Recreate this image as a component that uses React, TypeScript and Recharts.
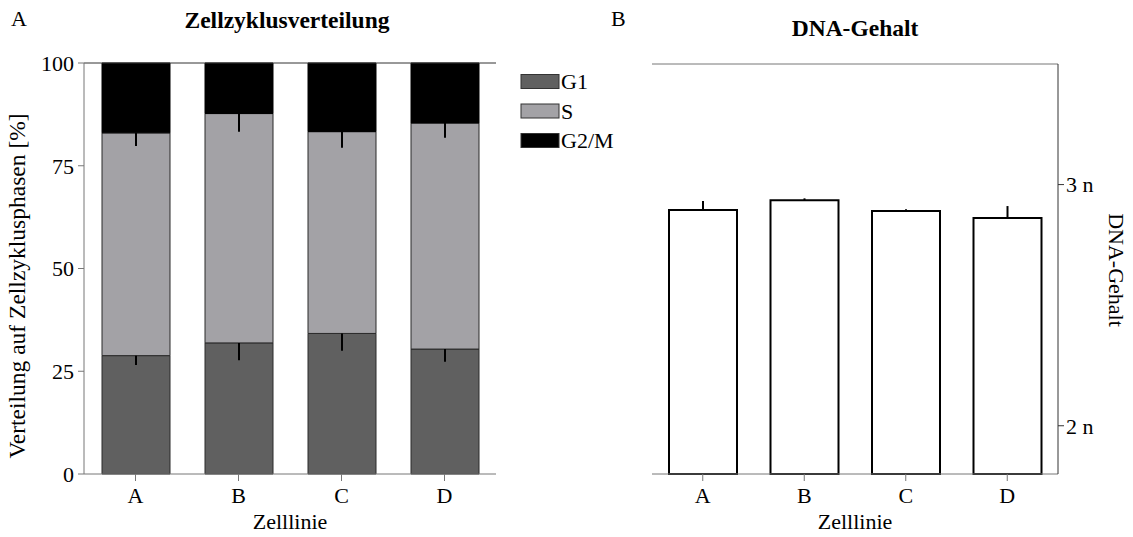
import React from 'react';
import { BarChart, Bar, XAxis, YAxis, ErrorBar, ReferenceLine } from 'recharts';

const categories = ['A', 'B', 'C', 'D'];
const seriesNames = ['G1', 'S', 'G2/M'];
const seriesColors = ['#606060', '#a3a2a6', '#000000'];
const g1Values = [28.8, 31.9, 34.2, 30.4];
const sValues = [54.2, 55.8, 49.1, 55.0];
const g2mValues = [17.0, 12.3, 16.7, 14.6];
const g1Errors = [2.3, 4.2, 4.2, 3.1];
const sErrors = [3.2, 4.4, 3.9, 3.6];
const pctTicks = [0, 25, 50, 75, 100];

const dnaValues = [2.895, 2.935, 2.89, 2.861];
const dnaErrors = [0.037, 0.008, 0.008, 0.05];
const dnaTicks = [2, 3];
const dnaTickLabels = ['2 n', '3 n'];
const dnaDomain = [1.8, 3.5];

const cycleData = categories.map((c, i) => ({
  name: c,
  G1: g1Values[i],
  S: sValues[i],
  G2M: g2mValues[i],
  g1Err: [g1Errors[i], 0],
  sErr: [sErrors[i], 0],
}));

const dnaData = categories.map((c, i) => ({
  name: c,
  dna: dnaValues[i],
  dnaErr: [0, dnaErrors[i]],
}));

const FONT = '"Times New Roman", "Liberation Serif", Times, serif';
const AX = '#777777';
const tickStyle = { fill: '#000', fontSize: 22, fontFamily: FONT };

export default function App() {
  return (
    <div style={{ position: 'absolute', left: 0, top: 0, width: 1133, height: 537, background: '#fff', fontFamily: FONT }}>
      <div style={{ position: 'absolute', left: 0, top: 0 }}>
        <BarChart width={520} height={537} data={cycleData} margin={{ top: 63, right: 24, bottom: 33, left: 24 }} barSize={68}>
          <XAxis dataKey="name" height={30} stroke={AX} tickSize={7} tickMargin={6} tick={tickStyle} />
          <YAxis domain={[0, 100]} ticks={pctTicks} interval={0} width={60} stroke={AX} tickSize={6} tickMargin={4} tick={tickStyle} />
          <ReferenceLine y={100} stroke="#333" strokeWidth={1} />
          <Bar dataKey="G1" stackId="a" fill={seriesColors[0]} stroke="#2a2a2a" strokeWidth={1} isAnimationActive={false}>
            <ErrorBar dataKey="g1Err" direction="y" width={0} stroke="#000" strokeWidth={2} />
          </Bar>
          <Bar dataKey="S" stackId="a" fill={seriesColors[1]} stroke="#2a2a2a" strokeWidth={1} isAnimationActive={false}>
            <ErrorBar dataKey="sErr" direction="y" width={0} stroke="#000" strokeWidth={2} />
          </Bar>
          <Bar dataKey="G2M" stackId="a" fill={seriesColors[2]} stroke="#000" strokeWidth={1} isAnimationActive={false} />
        </BarChart>
      </div>
      <div style={{ position: 'absolute', left: 600, top: 0 }}>
        <BarChart width={533} height={537} data={dnaData} margin={{ top: 64, right: 15, bottom: 33, left: 52 }} barSize={68}>
          <XAxis dataKey="name" height={30} stroke={AX} tickSize={7} tickMargin={6} tick={tickStyle} />
          <YAxis yAxisId="l" orientation="left" width={0} domain={dnaDomain} tick={false} tickLine={false} stroke={AX} />
          <YAxis yAxisId="r" orientation="right" domain={dnaDomain} ticks={dnaTicks} interval={0} width={60} stroke="#333" tickSize={6} tickMargin={2} tick={tickStyle} tickFormatter={(v: number) => dnaTickLabels[dnaTicks.indexOf(v)] ?? `${v} n`} />
          <ReferenceLine yAxisId="r" y={dnaDomain[1]} stroke={AX} strokeWidth={1} />
          <Bar yAxisId="r" dataKey="dna" fill="#ffffff" stroke="#000" strokeWidth={2} isAnimationActive={false}>
            <ErrorBar dataKey="dnaErr" direction="y" width={0} stroke="#000" strokeWidth={2} />
          </Bar>
        </BarChart>
      </div>
      <svg width={1133} height={537} style={{ position: 'absolute', left: 0, top: 0, pointerEvents: 'none' }}>
        <g fontFamily={FONT} fill="#000">
          <text x={11} y={26} fontSize={22}>A</text>
          <text x={287} y={28} fontSize={23.5} fontWeight="bold" textAnchor="middle">Zellzyklusverteilung</text>
          <text x={611} y={26} fontSize={22}>B</text>
          <text x={855} y={36} fontSize={23.5} fontWeight="bold" textAnchor="middle">DNA-Gehalt</text>
          <text x={290} y={529} fontSize={22} textAnchor="middle">Zelllinie</text>
          <text x={855} y={529} fontSize={22} textAnchor="middle">Zelllinie</text>
          <text transform="translate(25,286) rotate(-90)" fontSize={23.5} textAnchor="middle">Verteilung auf Zellzyklusphasen [%]</text>
          <text transform="translate(1109,270) rotate(90)" fontSize={22} textAnchor="middle">DNA-Gehalt</text>
          {seriesNames.map((n, i) => (
            <g key={n}>
              <rect x={521} y={74.5 + i * 29.5} width={38} height={14} fill={seriesColors[i]} stroke="#333" strokeWidth={1} />
              <text x={561} y={89 + i * 29.5} fontSize={22}>{n}</text>
            </g>
          ))}
        </g>
      </svg>
    </div>
  );
}
